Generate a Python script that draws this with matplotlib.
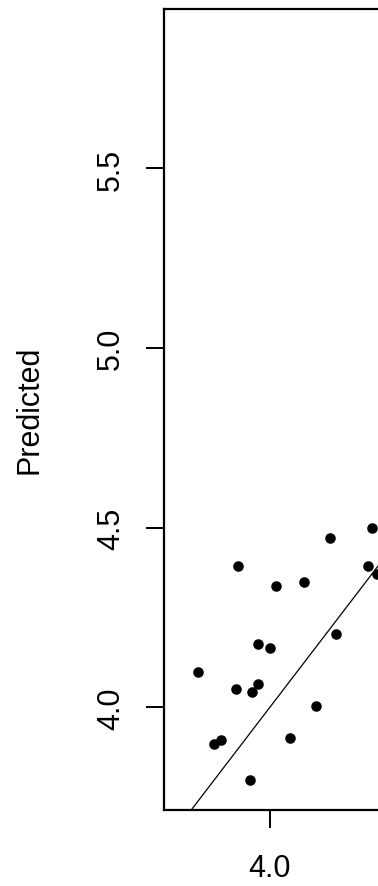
import numpy as np
import matplotlib
matplotlib.use("Agg")
import matplotlib.pyplot as plt

plt.rcParams["font.family"] = ["Liberation Sans", "DejaVu Sans"]

actual = [3.885, 4.024, 4.125, 4.219, 4.372, 4.357, 4.388, 4.241, 3.957, 4.000,
          3.739, 3.877, 3.957, 3.936, 4.168, 3.796, 3.821, 4.073, 3.927]
predicted = [4.392, 4.337, 4.349, 4.470, 4.499, 4.392, 4.371, 4.205, 4.177, 4.166,
             4.098, 4.052, 4.066, 4.043, 4.004, 3.897, 3.909, 3.915, 3.798]

# reference line y = x
intercept = 0.0
slope = 1.0

# only the ticks that fall inside the visible (cropped) area
x_ticks = [4.0]
y_ticks = [4.0, 4.5, 5.0, 5.5]
x_lim = (3.615, 5.95)
y_lim = (3.714, 5.944)

W, H = 378, 887
fig = plt.figure(figsize=(W / 100, H / 100), dpi=100)

left, top, bottom = 164, 10, 811
px_per_x = 275
ax_w = (x_lim[1] - x_lim[0]) * px_per_x
ax = fig.add_axes([left / W, (H - bottom) / H, ax_w / W, (bottom - top) / H])

ax.plot(actual, predicted, "o", color="black", markersize=7.6, markeredgewidth=0)
ax.axline((0, intercept), slope=slope, color="black", linewidth=0.9)

ax.set_xlim(*x_lim)
ax.set_ylim(*y_lim)
ax.set_xticks(x_ticks)
ax.set_yticks(y_ticks)
ax.set_xticklabels([f"{t:.1f}" for t in x_ticks])
ax.set_yticklabels([f"{t:.1f}" for t in y_ticks], rotation=90, va="center")
ax.tick_params(length=13, width=1.4, labelsize=22, colors="black")
ax.tick_params(axis="x", pad=18)
ax.tick_params(axis="y", pad=14.5)
for sp in ax.spines.values():
    sp.set_linewidth(1.6)

fig.text(30 / W, 1 - 410 / H, "Predicted", rotation=90, ha="center", va="center",
         fontsize=22)

fig.savefig("out.png", dpi=100)
plt.close(fig)
